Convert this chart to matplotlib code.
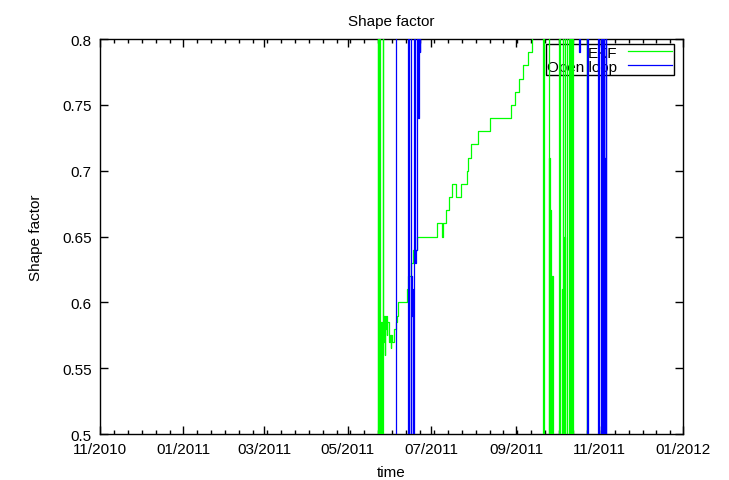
import pandas as pd
import matplotlib
matplotlib.use("Agg")
import matplotlib.pyplot as plt
import matplotlib.dates as mdates
from matplotlib.ticker import AutoMinorLocator, MultipleLocator

# ------------------ Data ------------------
# EKF shape factor estimate; values outside 0.5-0.8 are off-scale
ekf_time = [
    "2011-05-22 00:00", "2011-05-23 00:00", "2011-05-23 12:00", "2011-05-24 00:00",
    "2011-05-24 12:00", "2011-05-25 00:00", "2011-05-25 08:00", "2011-05-25 16:00",
    "2011-05-26 00:00", "2011-05-26 12:00", "2011-05-27 00:00", "2011-05-27 12:00",
    "2011-05-28 00:00", "2011-05-28 12:00", "2011-05-29 00:00", "2011-05-29 12:00",
    "2011-05-30 00:00", "2011-05-31 00:00", "2011-06-01 00:00", "2011-06-01 12:00",
    "2011-06-02 00:00", "2011-06-02 12:00", "2011-06-04 00:00", "2011-06-05 00:00",
    "2011-06-06 00:00", "2011-06-07 00:00", "2011-06-13 00:00", "2011-06-14 00:00",
    "2011-06-16 00:00", "2011-06-18 00:00", "2011-06-21 00:00", "2011-07-05 00:00",
    "2011-07-09 00:00", "2011-07-10 00:00", "2011-07-12 00:00", "2011-07-14 00:00",
    "2011-07-16 00:00", "2011-07-19 00:00", "2011-07-23 00:00", "2011-07-27 00:00",
    "2011-07-28 00:00", "2011-07-30 00:00", "2011-08-04 00:00", "2011-08-13 00:00",
    "2011-08-28 00:00", "2011-08-31 00:00", "2011-09-03 00:00", "2011-09-06 00:00",
    "2011-09-10 00:00", "2011-09-13 00:00", "2011-09-21 00:00", "2011-09-21 12:00",
    "2011-09-25 00:00", "2011-09-25 06:00", "2011-09-25 12:00", "2011-09-26 00:00",
    "2011-09-26 12:00", "2011-09-27 12:00", "2011-09-28 00:00", "2011-10-02 12:00",
    "2011-10-03 12:00", "2011-10-04 12:00", "2011-10-05 00:00", "2011-10-05 12:00",
    "2011-10-06 00:00", "2011-10-06 12:00", "2011-10-07 00:00", "2011-10-08 00:00",
    "2011-10-10 00:00", "2011-10-10 12:00", "2011-10-11 00:00", "2011-10-11 12:00",
    "2011-10-12 00:00", "2011-10-12 12:00", "2011-10-22 18:00", "2011-10-23 00:00",
]
ekf_value = [
    0.30, 0.90, 0.30, 0.90,
    0.30, 0.58, 0.56, 0.585,
    0.30, 0.90, 0.57, 0.59,
    0.56, 0.58, 0.59, 0.575,
    0.585, 0.57, 0.575, 0.565,
    0.575, 0.57, 0.58, 0.585,
    0.59, 0.60, 0.61, 0.62,
    0.63, 0.64, 0.65, 0.66,
    0.65, 0.66, 0.67, 0.68,
    0.69, 0.68, 0.69, 0.70,
    0.71, 0.72, 0.73, 0.74,
    0.75, 0.76, 0.77, 0.78,
    0.79, 0.85, 0.30, 0.90,
    0.30, 0.71, 0.30, 0.67,
    0.30, 0.62, 0.30, 0.90,
    0.30, 0.61, 0.90, 0.30,
    0.65, 0.30, 0.90, 0.30,
    0.90, 0.30, 0.90, 0.30,
    0.90, 0.30, 0.90, 0.30,
]

# Open loop shape factor
ol_time = [
    "2011-06-04 00:00", "2011-06-05 00:00", "2011-06-14 00:00", "2011-06-15 00:00",
    "2011-06-16 00:00", "2011-06-16 12:00", "2011-06-17 00:00", "2011-06-17 12:00",
    "2011-06-18 00:00", "2011-06-18 12:00", "2011-06-19 00:00", "2011-06-20 00:00",
    "2011-06-21 00:00", "2011-06-21 12:00", "2011-06-22 00:00", "2011-06-22 12:00",
    "2011-06-23 00:00", "2011-10-17 00:00", "2011-10-17 12:00", "2011-10-23 00:00",
    "2011-10-23 12:00", "2011-10-31 00:00", "2011-10-31 12:00", "2011-11-01 00:00",
    "2011-11-02 00:00", "2011-11-03 00:00", "2011-11-03 12:00", "2011-11-04 00:00",
    "2011-11-04 12:00", "2011-11-05 00:00", "2011-11-05 12:00", "2011-11-06 00:00",
]
ol_value = [
    0.30, 0.90, 0.30, 0.90,
    0.30, 0.62, 0.59, 0.61,
    0.30, 0.90, 0.63, 0.64,
    0.90, 0.74, 0.90, 0.79,
    0.90, 0.79, 0.90, 0.30,
    0.90, 0.30, 0.505, 0.90,
    0.30, 0.90, 0.30, 0.90,
    0.71, 0.30, 0.90, 0.30,
]

plt.rcParams["font.family"] = ["Liberation Sans", "DejaVu Sans"]
plt.rcParams["font.size"] = 11

fig = plt.figure(figsize=(7.29, 4.81), dpi=100)
ax = fig.add_axes([0.1372, 0.0956, 0.7996, 0.8212])

ax.plot(pd.to_datetime(ekf_time), ekf_value, color="#00ff00", lw=0.9,
        drawstyle="steps-post", label="EKF", zorder=3)
ax.plot(pd.to_datetime(ol_time), ol_value, color="#0000ff", lw=0.9,
        drawstyle="steps-post", label="Open loop", zorder=3)

ax.set_xlim(pd.Timestamp("2010-11-01"), pd.Timestamp("2012-01-01"))
ax.set_ylim(0.5, 0.8)

ax.xaxis.set_major_locator(mdates.MonthLocator(bymonth=[1, 3, 5, 7, 9, 11]))
ax.xaxis.set_major_formatter(mdates.DateFormatter("%m/%Y"))
ax.xaxis.set_minor_locator(AutoMinorLocator(6))
ax.yaxis.set_major_locator(MultipleLocator(0.05))
ax.yaxis.set_major_formatter(plt.FuncFormatter(lambda v, p: "%g" % round(v, 2)))

ax.tick_params(which="both", direction="in", top=True, right=True, color="black")
ax.tick_params(which="major", length=5.5, width=1.0, pad=6)
ax.tick_params(which="minor", length=3, width=1.0)
for s in ax.spines.values():
    s.set_linewidth(1.0)

ax.set_title("Shape factor", fontsize=11, pad=10)
ax.set_xlabel("time", labelpad=6)
ax.set_ylabel("Shape factor", labelpad=14)

leg = ax.legend(loc="upper right", bbox_to_anchor=(0.9846, 0.987), borderaxespad=0,
                markerfirst=False, fancybox=False, framealpha=1, facecolor="none",
                edgecolor="black", handlelength=2.9, handletextpad=0.7,
                labelspacing=0.0, borderpad=0.1, fontsize=11)
leg.get_frame().set_linewidth(1.0)
leg.set_zorder(2)

fig.savefig("out.png", dpi=100)
